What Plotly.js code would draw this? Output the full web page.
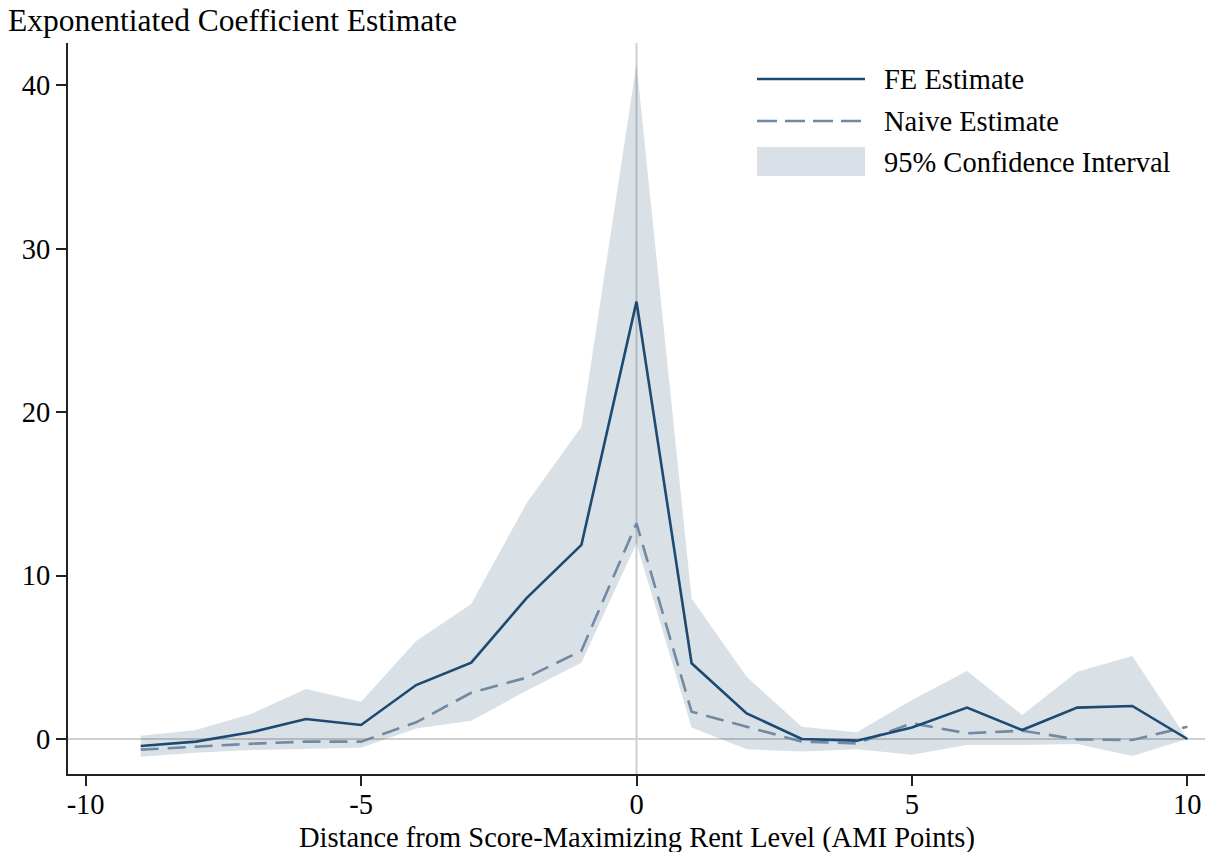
<!DOCTYPE html>
<html>
<head>
<meta charset="utf-8">
<script src="https://cdn.plot.ly/plotly-3.0.1.min.js"></script>
<style>
html,body{margin:0;padding:0;background:#fff;}
#chart{width:1213px;height:852px;}
</style>
</head>
<body>
<div id="chart"></div>
<script>
const distance = [-9,-8,-7,-6,-5,-4,-3,-2,-1,0,1,2,3,4,5,6,7,8,9,10];
const feEstimate = [-0.43,-0.16,0.41,1.22,0.86,3.3,4.67,8.6,11.87,26.75,4.63,1.57,0.0,-0.1,0.71,1.92,0.55,1.92,2.02,0.0];
const naiveEstimate = [-0.65,-0.45,-0.29,-0.16,-0.16,1.02,2.83,3.75,5.4,13.19,1.67,0.75,-0.16,-0.27,0.96,0.35,0.51,-0.02,-0.06,0.75];
const ciUpper = [0.2,0.55,1.53,3.06,2.28,6.0,8.26,14.4,19.1,41.3,8.6,3.81,0.75,0.41,2.39,4.16,1.47,4.12,5.08,0.0];
const ciLower = [-1.08,-0.84,-0.67,-0.61,-0.53,0.65,1.12,2.95,4.67,11.97,0.71,-0.63,-0.77,-0.63,-0.96,-0.37,-0.37,-0.31,-1.04,0.0];
const xTicks = [-10,-5,0,5,10];
const yTicks = [0,10,20,30,40];
const legendLabels = ["FE Estimate","Naive Estimate","95% Confidence Interval"];

const FONT = "Liberation Serif, Times New Roman, serif";
const FS = 28.5;
const NAVY = "#1c4a72";
const NAIVE = "#7189a2";
const FILL = "rgba(26,71,111,0.165)";
const XR = [-10.32, 10.32];
const YR = [-2.14, 42.57];

const traces = [
  {
    x: distance.concat(distance.slice().reverse()),
    y: ciUpper.concat(ciLower.slice().reverse()),
    type: "scatter", mode: "lines", fill: "toself", fillcolor: FILL,
    line: {width: 0, color: FILL}, hoverinfo: "skip", showlegend: false
  },
  {
    x: distance, y: naiveEstimate, type: "scatter", mode: "lines",
    line: {color: NAIVE, width: 2.6, dash: "18px,9px"}, showlegend: false
  },
  {
    x: distance, y: feEstimate, type: "scatter", mode: "lines",
    line: {color: NAVY, width: 2.6}, showlegend: false
  }
];

const W = 1213, H = 852, L = 68, R = 8, T = 43, B = 78;
const pw = W - L - R, ph = H - T - B;
const px = v => (v - L) / pw;
const py = v => 1 - (v - T) / ph;

const shapes = [
  {type: "line", xref: "paper", yref: "y", x0: 0, x1: 1, y0: 0, y1: 0, layer: "below",
   line: {color: "#d0d0d0", width: 2}},
  {type: "line", xref: "x", yref: "paper", x0: 0, x1: 0, y0: 0, y1: 1, layer: "below",
   line: {color: "#d0d0d0", width: 2}},
  {type: "line", xref: "paper", yref: "paper", x0: px(757), x1: px(865), y0: py(79), y1: py(79),
   line: {color: NAVY, width: 2.6}},
  {type: "line", xref: "paper", yref: "paper", x0: px(757), x1: px(865), y0: py(121), y1: py(121),
   line: {color: NAIVE, width: 2.6, dash: "20px,8px"}},
  {type: "rect", xref: "paper", yref: "paper", x0: px(757), x1: px(865), y0: py(147), y1: py(176),
   fillcolor: "#dae0e8", line: {width: 0}}
];

const annotations = [
  {text: "Exponentiated Coefficient Estimate", xref: "paper", yref: "paper",
   x: px(6), y: py(21), xanchor: "left", yanchor: "middle", showarrow: false,
   font: {family: FONT, size: 31.5, color: "#000"}},
  {text: "Distance from Score-Maximizing Rent Level (AMI Points)", xref: "paper", yref: "paper",
   x: px(637), y: py(820), xanchor: "center", yanchor: "top", showarrow: false,
   font: {family: FONT, size: FS, color: "#000"}},
  {text: legendLabels[0], xref: "paper", yref: "paper", x: px(882), y: py(80),
   xanchor: "left", yanchor: "middle", showarrow: false, font: {family: FONT, size: FS, color: "#000"}},
  {text: legendLabels[1], xref: "paper", yref: "paper", x: px(882), y: py(122),
   xanchor: "left", yanchor: "middle", showarrow: false, font: {family: FONT, size: FS, color: "#000"}},
  {text: legendLabels[2], xref: "paper", yref: "paper", x: px(882), y: py(162),
   xanchor: "left", yanchor: "middle", showarrow: false, font: {family: FONT, size: FS, color: "#000"}}
];

const layout = {
  width: W, height: H,
  margin: {l: L, r: R, t: T, b: B, pad: 0},
  paper_bgcolor: "#fff", plot_bgcolor: "#fff",
  showlegend: false,
  font: {family: FONT, size: FS, color: "#000"},
  xaxis: {
    range: XR, tickvals: xTicks, ticktext: xTicks.map(String),
    showgrid: false, zeroline: false, showline: true, linecolor: "#222", linewidth: 2,
    ticks: "outside", ticklen: 10, tickwidth: 2, tickcolor: "#222", ticklabelstandoff: -6,
    tickfont: {family: FONT, size: FS, color: "#000"}
  },
  yaxis: {
    range: YR, tickvals: yTicks, ticktext: yTicks.map(String),
    showgrid: false, zeroline: false, showline: true, linecolor: "#222", linewidth: 2,
    ticks: "outside", ticklen: 10, tickwidth: 2, tickcolor: "#222",
    tickfont: {family: FONT, size: FS, color: "#000"}
  },
  shapes: shapes,
  annotations: annotations
};

Plotly.newPlot("chart", traces, layout, {displayModeBar: false, staticPlot: true});
</script>
</body>
</html>
